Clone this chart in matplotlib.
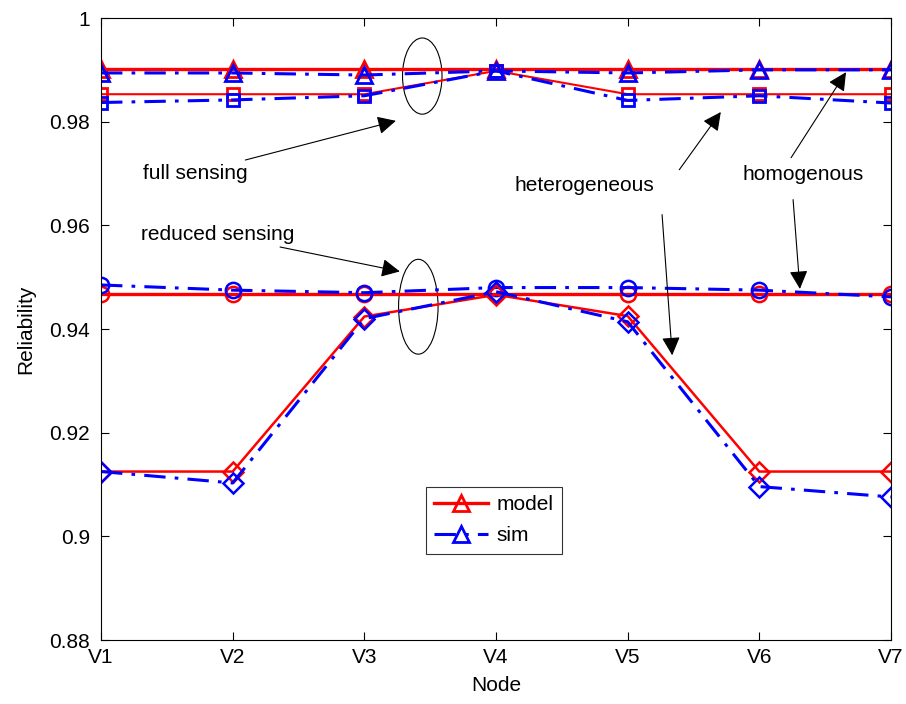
import matplotlib
matplotlib.use("Agg")
import matplotlib.pyplot as plt
from matplotlib.lines import Line2D
from matplotlib.patches import Ellipse

plt.rcParams["font.family"] = ["Liberation Sans", "DejaVu Sans"]

nodes = ["V1", "V2", "V3", "V4", "V5", "V6", "V7"]

# full sensing
full_homo_model = [0.9901, 0.9901, 0.9901, 0.9901, 0.9901, 0.9901, 0.9901]
full_homo_sim = [0.9894, 0.9894, 0.9890, 0.9898, 0.9894, 0.9900, 0.9900]
full_hetero_model = [0.9853, 0.9853, 0.9853, 0.9898, 0.9853, 0.9853, 0.9853]
full_hetero_sim = [0.9837, 0.9842, 0.9850, 0.9898, 0.9841, 0.9850, 0.9836]

# reduced sensing
red_homo_model = [0.9468, 0.9468, 0.9468, 0.9468, 0.9468, 0.9468, 0.9468]
red_homo_sim = [0.9485, 0.9475, 0.9470, 0.9480, 0.9480, 0.9475, 0.9462]
red_hetero_model = [0.9125, 0.9125, 0.9424, 0.9466, 0.9425, 0.9125, 0.9125]
red_hetero_sim = [0.9125, 0.9103, 0.9420, 0.9472, 0.9414, 0.9096, 0.9076]

x = list(range(len(nodes)))
dashdot = (0, (7, 3, 1.2, 3))

fig = plt.figure(figsize=(9.06, 7.04), dpi=100)
ax = fig.add_axes([0.1115, 0.0909, 0.8719, 0.8835])

ms = 11
ax.plot(x, full_homo_model, color="red", lw=2.4, marker="^", ms=ms, mfc="none", mew=2)
ax.plot(x, full_homo_sim, color="blue", lw=2.2, ls=dashdot, marker="^", ms=ms, mfc="none", mew=2)
ax.plot(x, full_hetero_model, color="red", lw=1.5, marker="s", ms=9, mfc="none", mew=2)
ax.plot(x, full_hetero_sim, color="blue", lw=2.2, ls=dashdot, marker="s", ms=9, mfc="none", mew=2)

ax.plot(x, red_homo_model, color="red", lw=2.4, marker="o", ms=ms, mfc="none", mew=1.8)
ax.plot(x, red_homo_sim, color="blue", lw=2.2, ls=dashdot, marker="o", ms=ms, mfc="none", mew=1.8)
ax.plot(x, red_hetero_model, color="red", lw=1.8, marker="D", ms=10, mfc="none", mew=1.8)
ax.plot(x, red_hetero_sim, color="blue", lw=2.2, ls=dashdot, marker="D", ms=10, mfc="none", mew=1.8)

# ellipses
ax.add_patch(Ellipse((2.44, 0.9888), 0.30, 0.0147, fill=False, ec="black", lw=0.8))
ax.add_patch(Ellipse((2.41, 0.9443), 0.30, 0.0183, fill=False, ec="black", lw=0.8))

arrow = dict(arrowstyle="-|>", color="black", lw=0.8, mutation_scale=28)
fs = 15
ax.annotate("full sensing", xy=(2.26, 0.9803), xytext=(0.32, 0.9701),
            fontsize=fs, va="center", ha="left", arrowprops=arrow)
ax.annotate("reduced sensing", xy=(2.29, 0.9510), xytext=(0.30, 0.9583),
            fontsize=fs, va="center", ha="left", arrowprops=arrow)
ax.annotate("", xy=(4.72, 0.9823), xytext=(4.38, 0.9703), arrowprops=arrow)
ax.annotate("", xy=(4.34, 0.9344), xytext=(4.26, 0.9626), arrowprops=arrow)
ax.text(3.14, 0.9676, "heterogeneous", fontsize=fs, va="center", ha="left")
ax.annotate("", xy=(5.67, 0.9900), xytext=(5.23, 0.9726), arrowprops=arrow)
ax.annotate("", xy=(5.31, 0.9472), xytext=(5.255, 0.9655), arrowprops=arrow)
ax.text(4.87, 0.9699, "homogenous", fontsize=fs, va="center", ha="left")

handles = [
    Line2D([], [], color="red", lw=2.4, marker="^", ms=ms, mfc="none", mew=2),
    Line2D([], [], color="blue", lw=2.2, ls=dashdot, marker="^", ms=ms, mfc="none", mew=2),
]
leg = ax.legend(handles, ["model", "sim"], loc="lower left",
                bbox_to_anchor=(0.398, 0.122), fontsize=fs, frameon=True,
                fancybox=False, edgecolor="black", handlelength=2.6,
                handletextpad=0.4, borderpad=0.4, labelspacing=0.6)
leg.get_frame().set_linewidth(0.8)

ax.set_xlim(0, 6)
ax.set_ylim(0.88, 1.0)
ax.set_xticks(x)
ax.set_xticklabels(nodes)
ax.set_yticks([0.88, 0.90, 0.92, 0.94, 0.96, 0.98, 1.0])
ax.set_yticklabels(["0.88", "0.9", "0.92", "0.94", "0.96", "0.98", "1"])
ax.tick_params(direction="in", top=True, right=True, labelsize=fs, length=6)
ax.tick_params(axis="x", pad=6)
ax.tick_params(axis="y", pad=8)
ax.set_xlabel("Node", fontsize=fs, labelpad=6)
ax.set_ylabel("Reliability", fontsize=fs, labelpad=10)
for s in ax.spines.values():
    s.set_linewidth(0.8)

fig.savefig("out.png", dpi=100)
